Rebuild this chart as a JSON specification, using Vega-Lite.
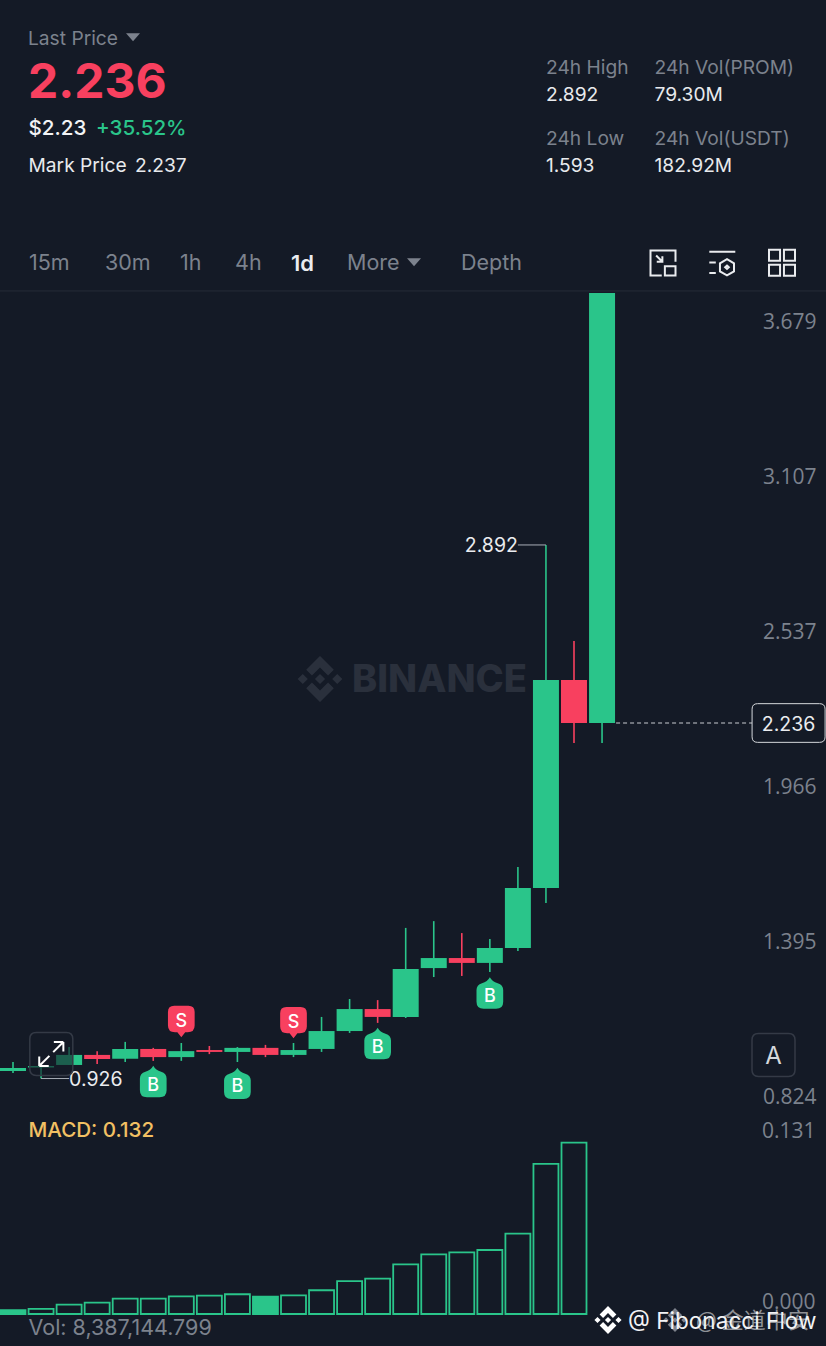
{
  "$schema": "https://vega.github.io/schema/vega-lite/v6.json",
  "width": 826,
  "height": 1346,
  "padding": 0,
  "autosize": {"type": "none"},
  "background": "#141a26",
  "config": {"view": {"stroke": null}, "font": "Inter"},
  "datasets": {
    "candles": [
      {"day": 0, "open": 0.954, "close": 0.965, "high": 0.987, "low": 0.946, "dir": "up"},
      {"day": 1, "open": 0.967, "close": 0.972, "high": 0.972, "low": 0.926, "dir": "up"},
      {"day": 2, "open": 0.976, "close": 1.013, "high": 1.042, "low": 0.976, "dir": "up"},
      {"day": 3, "open": 1.013, "close": 0.998, "high": 1.027, "low": 0.98, "dir": "down"},
      {"day": 4, "open": 0.999, "close": 1.035, "high": 1.061, "low": 0.987, "dir": "up"},
      {"day": 5, "open": 1.035, "close": 1.005, "high": 1.039, "low": 0.991, "dir": "down"},
      {"day": 6, "open": 1.005, "close": 1.027, "high": 1.057, "low": 0.991, "dir": "up"},
      {"day": 7, "open": 1.031, "close": 1.024, "high": 1.046, "low": 1.016, "dir": "down"},
      {"day": 8, "open": 1.024, "close": 1.039, "high": 1.042, "low": 0.987, "dir": "up"},
      {"day": 9, "open": 1.039, "close": 1.013, "high": 1.05, "low": 1.005, "dir": "down"},
      {"day": 10, "open": 1.013, "close": 1.031, "high": 1.057, "low": 1.005, "dir": "up"},
      {"day": 11, "open": 1.035, "close": 1.101, "high": 1.153, "low": 1.024, "dir": "up"},
      {"day": 12, "open": 1.101, "close": 1.182, "high": 1.219, "low": 1.094, "dir": "up"},
      {"day": 13, "open": 1.182, "close": 1.153, "high": 1.215, "low": 1.131, "dir": "down"},
      {"day": 14, "open": 1.153, "close": 1.33, "high": 1.481, "low": 1.149, "dir": "up"},
      {"day": 15, "open": 1.333, "close": 1.37, "high": 1.506, "low": 1.3, "dir": "up"},
      {"day": 16, "open": 1.37, "close": 1.352, "high": 1.462, "low": 1.304, "dir": "down"},
      {"day": 17, "open": 1.352, "close": 1.407, "high": 1.44, "low": 1.319, "dir": "up"},
      {"day": 18, "open": 1.407, "close": 1.628, "high": 1.705, "low": 1.396, "dir": "up"},
      {"day": 19, "open": 1.628, "close": 2.394, "high": 2.892, "low": 1.573, "dir": "up"},
      {"day": 20, "open": 2.394, "close": 2.236, "high": 2.538, "low": 2.162, "dir": "down"},
      {"day": 21, "open": 2.236, "close": 3.82, "high": 3.82, "low": 2.162, "dir": "up"}
    ],
    "macd": [
      {"day": 0, "macd": 0.003, "trend": "falling"},
      {"day": 1, "macd": 0.0039, "trend": "rising"},
      {"day": 2, "macd": 0.0072, "trend": "rising"},
      {"day": 3, "macd": 0.0087, "trend": "rising"},
      {"day": 4, "macd": 0.0118, "trend": "rising"},
      {"day": 5, "macd": 0.0118, "trend": "rising"},
      {"day": 6, "macd": 0.0136, "trend": "rising"},
      {"day": 7, "macd": 0.0141, "trend": "rising"},
      {"day": 8, "macd": 0.0152, "trend": "rising"},
      {"day": 9, "macd": 0.0133, "trend": "falling"},
      {"day": 10, "macd": 0.0144, "trend": "rising"},
      {"day": 11, "macd": 0.0183, "trend": "rising"},
      {"day": 12, "macd": 0.0254, "trend": "rising"},
      {"day": 13, "macd": 0.0272, "trend": "rising"},
      {"day": 14, "macd": 0.0383, "trend": "rising"},
      {"day": 15, "macd": 0.046, "trend": "rising"},
      {"day": 16, "macd": 0.0475, "trend": "rising"},
      {"day": 17, "macd": 0.0493, "trend": "rising"},
      {"day": 18, "macd": 0.0619, "trend": "rising"},
      {"day": 19, "macd": 0.1156, "trend": "rising"},
      {"day": 20, "macd": 0.132, "trend": "rising"}
    ],
    "signals": [
      {"day": 5, "side": "B", "price": 0.915},
      {"day": 6, "side": "S", "price": 1.136},
      {"day": 8, "side": "B", "price": 0.908},
      {"day": 10, "side": "S", "price": 1.132},
      {"day": 13, "side": "B", "price": 1.055},
      {"day": 17, "side": "B", "price": 1.241}
    ],
    "extremes": [
      {"label": "2.892", "price": 2.892, "day": 19, "labelDay": 18, "side": "left"},
      {"label": "0.926", "price": 0.926, "day": 1, "labelDay": 2, "side": "right"}
    ],
    "lastPrice": [
      {"label": "2.236", "price": 2.236, "from": 21.5, "to": 26.35, "tagDay": 27.65}
    ],
    "labels": [
      {"id": "lastTitle", "text": "Last Price", "group": "muted"},
      {"id": "last", "text": "2.236", "group": "headline"},
      {"id": "usd", "text": "$2.23", "group": "strong"},
      {"id": "change", "text": "+35.52%", "group": "gain"},
      {"id": "markTitle", "text": "Mark Price", "group": "value"},
      {"id": "mark", "text": "2.237", "group": "value"},
      {"id": "highTitle", "text": "24h High", "group": "muted"},
      {"id": "high", "text": "2.892", "group": "value"},
      {"id": "lowTitle", "text": "24h Low", "group": "muted"},
      {"id": "low", "text": "1.593", "group": "value"},
      {"id": "volPromTitle", "text": "24h Vol(PROM)", "group": "muted"},
      {"id": "volProm", "text": "79.30M", "group": "value"},
      {"id": "volUsdtTitle", "text": "24h Vol(USDT)", "group": "muted"},
      {"id": "volUsdt", "text": "182.92M", "group": "value"},
      {"id": "t15m", "text": "15m", "group": "tab"},
      {"id": "t30m", "text": "30m", "group": "tab"},
      {"id": "t1h", "text": "1h", "group": "tab"},
      {"id": "t4h", "text": "4h", "group": "tab"},
      {"id": "t1d", "text": "1d", "group": "active"},
      {"id": "tMore", "text": "More", "group": "tab"},
      {"id": "tDepth", "text": "Depth", "group": "tab"},
      {"id": "macdTitle", "text": "MACD: 0.132", "group": "macd"},
      {"id": "vol", "text": "Vol: 8,387,144.799", "group": "tab"},
      {"id": "brand", "text": "BINANCE", "group": "brand"},
      {"id": "autoBtn", "text": "A", "group": "button"},
      {"id": "credit", "text": "@ Fibonacci Flow", "group": "credit"},
      {"id": "ghost", "text": "@ 金道中安", "group": "ghost"}
    ],
    "widgets": [
      {"id": "caretLast"},
      {"id": "caretMore"},
      {"id": "fitIcon"},
      {"id": "indicatorIcon"},
      {"id": "gridIcon"},
      {"id": "brandLogo"},
      {"id": "expandBox"},
      {"id": "expandArrows"},
      {"id": "autoBox"},
      {"id": "creditLogo"},
      {"id": "ghostLogo"}
    ]
  },
  "resolve": {"scale": {"x": "independent", "y": "independent", "color": "independent", "fill": "independent", "shape": "independent"}},
  "layer": [
    {
      "data": {"values": [{"price": 3.828}]},
      "mark": {"type": "rule", "stroke": "#262c38", "strokeWidth": 1},
      "encoding": {
        "y": {
          "field": "price",
          "type": "quantitative",
          "scale": {"domain": [-0.0595, 4.9], "nice": false, "zero": false},
          "axis": {
            "orient": "right",
            "values": [0.824, 1.395, 1.966, 2.537, 3.107, 3.679],
            "format": ".3f",
            "title": null,
            "domain": false,
            "ticks": false,
            "grid": false,
            "labelColor": "#7c828d",
            "labelFontSize": 21,
            "labelFont": "Open Sans",
            "labelAlign": "right",
            "labelBaseline": "middle",
            "labelPadding": -10,
            "labelOffset": -9
          }
        }
      }
    },
    {
      "layer": [
        {
          "data": {"name": "candles"},
          "mark": {"type": "rule", "strokeWidth": 1.6},
          "encoding": {
            "x": {"field": "day", "type": "quantitative", "axis": null, "scale": {"domain": [-0.4635, 28.984], "nice": false, "zero": false, "padding": 0}},
            "y": {"field": "low", "type": "quantitative", "axis": null, "scale": {"domain": [-0.0595, 4.9], "nice": false, "zero": false}},
            "y2": {"field": "high"},
            "color": {"field": "dir", "type": "nominal", "legend": null, "scale": {"domain": ["up", "down"], "range": ["#2ac58a", "#f8405f"]}}
          }
        },
        {
          "data": {"name": "candles"},
          "mark": {"type": "bar", "size": 26},
          "encoding": {
            "x": {"field": "day", "type": "quantitative", "axis": null, "scale": {"domain": [-0.4635, 28.984], "nice": false, "zero": false, "padding": 0}},
            "y": {"field": "open", "type": "quantitative", "axis": null},
            "y2": {"field": "close"},
            "color": {"field": "dir", "type": "nominal", "legend": null}
          }
        },
        {
          "data": {"name": "extremes"},
          "mark": {"type": "rule", "stroke": "#a9afb7", "strokeWidth": 1},
          "encoding": {
            "x": {"field": "labelDay", "type": "quantitative", "axis": null},
            "x2": {"field": "day"},
            "y": {"field": "price", "type": "quantitative", "axis": null}
          }
        },
        {
          "data": {"name": "extremes"},
          "mark": {"type": "text", "fontSize": 19.5, "fill": "#eaecef", "baseline": "middle", "dy": 1.5, "align": {"expr": "datum.side === 'left' ? 'right' : 'left'"}},
          "encoding": {
            "x": {"field": "labelDay", "type": "quantitative", "axis": null},
            "y": {"field": "price", "type": "quantitative", "axis": null},
            "text": {"field": "label"}
          }
        },
        {
          "data": {"name": "lastPrice"},
          "mark": {"type": "rule", "stroke": "#c9ccd1", "strokeWidth": 1, "strokeDash": [4, 3]},
          "encoding": {
            "x": {"field": "from", "type": "quantitative", "axis": null},
            "x2": {"field": "to"},
            "y": {"field": "price", "type": "quantitative", "axis": null}
          }
        },
        {
          "data": {"name": "lastPrice"},
          "mark": {
            "type": "point",
            "shape": "M-0.85 -0.53H0.85Q1 -0.53 1 -0.38V0.38Q1 0.53 0.85 0.53H-0.85Q-1 0.53 -1 0.38V-0.38Q-1 -0.53 -0.85 -0.53Z",
            "size": 5329,
            "filled": true,
            "fill": "#141a26",
            "stroke": "#d5d8dc",
            "strokeWidth": 1,
            "opacity": 1
          },
          "encoding": {
            "x": {"field": "tagDay", "type": "quantitative", "axis": null},
            "y": {"field": "price", "type": "quantitative", "axis": null}
          }
        },
        {
          "data": {"name": "lastPrice"},
          "mark": {"type": "text", "fontSize": 19.5, "fill": "#eaecef", "align": "center", "baseline": "middle", "dy": 2},
          "encoding": {
            "x": {"field": "tagDay", "type": "quantitative", "axis": null},
            "y": {"field": "price", "type": "quantitative", "axis": null},
            "text": {"field": "label"}
          }
        },
        {
          "data": {"name": "signals"},
          "mark": {"type": "point", "filled": true, "size": 986, "opacity": 1},
          "encoding": {
            "x": {"field": "day", "type": "quantitative", "axis": null},
            "y": {"field": "price", "type": "quantitative", "axis": null},
            "shape": {
              "field": "side",
              "type": "nominal",
              "legend": null,
              "scale": {
                "domain": ["B", "S"],
                "range": [
                  "M0 -1Q0.15 -0.72 0.5 -0.62Q0.85 -0.5 0.85 -0.2V0.55Q0.85 1 0.4 1H-0.4Q-0.85 1 -0.85 0.55V-0.2Q-0.85 -0.5 -0.5 -0.62Q-0.15 -0.72 0 -1Z",
                  "M-0.45 -1H0.45Q0.85 -1 0.85 -0.6V0.25Q0.85 0.68 0.4 0.68H0.25L0 1L-0.25 0.68H-0.4Q-0.85 0.68 -0.85 0.25V-0.6Q-0.85 -1 -0.45 -1Z"
                ]
              }
            },
            "fill": {"field": "side", "type": "nominal", "legend": null, "scale": {"domain": ["B", "S"], "range": ["#2ac58a", "#f8405f"]}}
          }
        },
        {
          "data": {"name": "signals"},
          "mark": {"type": "text", "fontSize": 18, "fontWeight": 500, "fill": "#ffffff", "align": "center", "baseline": "middle", "dy": {"expr": "datum.side === 'B' ? 4 : 0"}},
          "encoding": {
            "x": {"field": "day", "type": "quantitative", "axis": null},
            "y": {"field": "price", "type": "quantitative", "axis": null},
            "text": {"field": "side"}
          }
        }
      ]
    },
    {
      "data": {"name": "macd"},
      "mark": {"type": "bar", "size": 25, "stroke": "#2ac58a", "strokeWidth": 1.8},
      "encoding": {
        "x": {"field": "day", "type": "quantitative", "axis": null, "scale": {"domain": [-0.4635, 28.984], "nice": false, "zero": false, "padding": 0}},
        "y": {
          "field": "macd",
          "type": "quantitative",
          "scale": {"domain": [-0.02465, 1.0123], "nice": false, "zero": false},
          "axis": {
            "orient": "right",
            "values": [0, 0.131],
            "format": ".3f",
            "title": null,
            "domain": false,
            "ticks": false,
            "grid": false,
            "labelColor": "#7c828d",
            "labelFontSize": 21,
            "labelFont": "Open Sans",
            "labelAlign": "right",
            "labelBaseline": "middle",
            "labelPadding": -11,
            "labelOffset": -12
          }
        },
        "fill": {"field": "trend", "type": "nominal", "legend": null, "scale": {"domain": ["rising", "falling"], "range": ["#141a26", "#2ac58a"]}}
      }
    },
    {
      "data": {"name": "widgets"},
      "transform": [
        {"calculate": "({caretLast:[133,37],caretMore:[414,262],fitIcon:[663,263],indicatorIcon:[722.3,263],gridIcon:[782,262.7],brandLogo:[320,679],expandBox:[51.3,1054],expandArrows:[51.3,1054],autoBox:[773.5,1055],creditLogo:[608,1320],ghostLogo:[675,1320]})[datum.id]", "as": "pos"},
        {"calculate": "datum.pos[0]", "as": "left"},
        {"calculate": "datum.pos[1]", "as": "top"}
      ],
      "encoding": {
        "x": {"field": "left", "type": "quantitative", "axis": null, "scale": {"domain": [0, 826], "nice": false, "zero": false}},
        "y": {"field": "top", "type": "quantitative", "axis": null, "scale": {"domain": [1346, 0], "nice": false, "zero": false}}
      },
      "layer": [
        {
          "transform": [{"filter": "datum.id === 'caretLast' || datum.id === 'caretMore'"}],
          "mark": {"type": "point", "shape": "M-1 -0.55L1 -0.55L0 0.6Z", "size": 196, "filled": true, "fill": "#7c828d", "opacity": 1}
        },
        {
          "transform": [{"filter": "datum.id === 'fitIcon'"}],
          "mark": {"type": "point", "shape": "M1 -0.1V-1H-1V1H-0.1M0.15 0.25H1V1H0.15ZM-0.55 -0.6L-0.05 -0.1M-0.05 -0.55V-0.1H-0.5", "size": 625, "filled": false, "stroke": "#eaecef", "strokeWidth": 2, "opacity": 1}
        },
        {
          "transform": [{"filter": "datum.id === 'indicatorIcon'"}],
          "mark": {"type": "point", "shape": "M-1 -0.87H1M-1 -0.03H-0.5M-1 0.76H-0.5M0.36 -0.29L0.9 0.02V0.64L0.36 0.95L-0.18 0.64V0.02ZM0.36 0.2L0.5 0.33L0.36 0.46L0.22 0.33Z", "size": 676, "filled": false, "stroke": "#eaecef", "strokeWidth": 2, "opacity": 1}
        },
        {
          "transform": [{"filter": "datum.id === 'gridIcon'"}],
          "mark": {"type": "point", "shape": "M-1 -1H-0.15V-0.15H-1ZM0.15 -1H1V-0.15H0.15ZM-1 0.15H-0.15V1H-1ZM0.15 0.15H1V1H0.15Z", "size": 676, "filled": false, "stroke": "#eaecef", "strokeWidth": 2, "opacity": 1}
        },
        {
          "transform": [{"filter": "datum.id === 'brandLogo'"}],
          "mark": {"type": "point", "shape": "M0 -1L0.6 -0.4L0.35 -0.15L0 -0.5L-0.35 -0.15L-0.6 -0.4ZM0 1L0.6 0.4L0.35 0.15L0 0.5L-0.35 0.15L-0.6 0.4ZM0 -0.22L0.22 0L0 0.22L-0.22 0ZM-0.75 -0.22L-0.53 0L-0.75 0.22L-0.97 0ZM0.75 -0.22L0.97 0L0.75 0.22L0.53 0Z", "size": 2116, "filled": true, "fill": "#2a303c", "opacity": 1}
        },
        {
          "transform": [{"filter": "datum.id === 'expandBox' || datum.id === 'autoBox'"}],
          "mark": {"type": "point", "shape": "M-0.7 -1H0.7Q1 -1 1 -0.7V0.7Q1 1 0.7 1H-0.7Q-1 1 -1 0.7V-0.7Q-1 -1 -0.7 -1Z", "size": 1849, "filled": true, "fill": "#141a26", "fillOpacity": 0.6, "stroke": "#343a46", "strokeWidth": 1.5, "opacity": 1}
        },
        {
          "transform": [{"filter": "datum.id === 'expandArrows'"}],
          "mark": {"type": "point", "shape": "M-0.95 0.95L-0.15 0.15M-0.95 0.95V0.2M-0.95 0.95H-0.2M0.95 -0.95L0.15 -0.15M0.95 -0.95V-0.2M0.95 -0.95H0.2", "size": 645, "filled": false, "stroke": "#ffffff", "strokeWidth": 2, "opacity": 1}
        },
        {
          "transform": [{"filter": "datum.id === 'ghostLogo'"}],
          "mark": {"type": "point", "shape": "M0 -1L0.6 -0.4L0.35 -0.15L0 -0.5L-0.35 -0.15L-0.6 -0.4ZM0 1L0.6 0.4L0.35 0.15L0 0.5L-0.35 0.15L-0.6 0.4ZM0 -0.22L0.22 0L0 0.22L-0.22 0ZM-0.75 -0.22L-0.53 0L-0.75 0.22L-0.97 0ZM0.75 -0.22L0.97 0L0.75 0.22L0.53 0Z", "size": 576, "filled": true, "fill": "#7d828c", "opacity": 1}
        },
        {
          "transform": [{"filter": "datum.id === 'creditLogo'"}],
          "mark": {"type": "point", "shape": "M0 -1L0.6 -0.4L0.35 -0.15L0 -0.5L-0.35 -0.15L-0.6 -0.4ZM0 1L0.6 0.4L0.35 0.15L0 0.5L-0.35 0.15L-0.6 0.4ZM0 -0.22L0.22 0L0 0.22L-0.22 0ZM-0.75 -0.22L-0.53 0L-0.75 0.22L-0.97 0ZM0.75 -0.22L0.97 0L0.75 0.22L0.53 0Z", "size": 784, "filled": true, "fill": "#ffffff", "opacity": 1}
        }
      ]
    },
    {
      "data": {"name": "labels"},
      "transform": [
        {"calculate": "({lastTitle:[28,38],last:[28,82],usd:[28.5,128],change:[96,128],markTitle:[28.5,165],mark:[135,165],highTitle:[546,67],high:[546,94],lowTitle:[546,137.5],low:[546,165],volPromTitle:[654.5,67],volProm:[654.5,94],volUsdtTitle:[654.5,137.5],volUsdt:[654.5,165],t15m:[29,263],t30m:[105,263],t1h:[180,263],t4h:[235,263],t1d:[291,263],tMore:[347,263],tDepth:[461,263],macdTitle:[28.5,1130],vol:[28.5,1328],brand:[352,679],autoBtn:[773.5,1056],credit:[628,1320],ghost:[696,1320]})[datum.id]", "as": "pos"},
        {"calculate": "datum.pos[0]", "as": "left"},
        {"calculate": "datum.pos[1]", "as": "top"}
      ],
      "encoding": {
        "x": {"field": "left", "type": "quantitative", "axis": null, "scale": {"domain": [0, 826], "nice": false, "zero": false}},
        "y": {"field": "top", "type": "quantitative", "axis": null, "scale": {"domain": [1346, 0], "nice": false, "zero": false}},
        "text": {"field": "text"}
      },
      "layer": [
        {
          "transform": [{"filter": "datum.group === 'muted' || datum.group === 'value'"}],
          "mark": {"type": "text", "fontSize": 19.2, "align": "left", "baseline": "middle", "dy": 1},
          "encoding": {
            "color": {"field": "group", "type": "nominal", "legend": null, "scale": {"domain": ["muted", "value", "strong", "gain", "macd"], "range": ["#7c828d", "#e8eaed", "#f2f3f5", "#2ac58a", "#f2c063"]}}
          }
        },
        {
          "transform": [{"filter": "datum.group === 'tab'"}],
          "mark": {"type": "text", "fontSize": 21.5, "fill": "#7c828d", "align": "left", "baseline": "middle", "dy": 1}
        },
        {
          "transform": [{"filter": "datum.group === 'strong' || datum.group === 'gain' || datum.group === 'macd'"}],
          "mark": {"type": "text", "fontSize": 20.6, "fontWeight": 500, "align": "left", "baseline": "middle", "dy": 1},
          "encoding": {
            "color": {"field": "group", "type": "nominal", "legend": null, "scale": {"domain": ["muted", "value", "strong", "gain", "macd"], "range": ["#7c828d", "#e8eaed", "#f2f3f5", "#2ac58a", "#f2c063"]}}
          }
        },
        {
          "transform": [{"filter": "datum.group === 'active'"}],
          "mark": {"type": "text", "fontSize": 22, "fontWeight": 600, "fill": "#eaecef", "align": "left", "baseline": "middle", "dy": 1}
        },
        {
          "transform": [{"filter": "datum.group === 'headline'"}],
          "mark": {"type": "text", "fontSize": 48, "fontWeight": 700, "fill": "#f8405f", "align": "left", "baseline": "middle", "dy": 2}
        },
        {
          "transform": [{"filter": "datum.group === 'brand'"}],
          "mark": {"type": "text", "fontSize": 38, "fontWeight": 800, "fill": "#2a303c", "align": "left", "baseline": "middle", "dy": 2}
        },
        {
          "transform": [{"filter": "datum.group === 'button'"}],
          "mark": {"type": "text", "fontSize": 24, "fill": "#d5d8dc", "align": "center", "baseline": "middle", "dy": 1}
        },
        {
          "transform": [{"filter": "datum.group === 'ghost'"}],
          "mark": {"type": "text", "font": "Noto Sans CJK SC", "fontSize": 22, "fill": "#8e9196", "align": "left", "baseline": "middle", "dy": 1}
        },
        {
          "transform": [{"filter": "datum.group === 'credit'"}],
          "mark": {"type": "text", "fontSize": 22.6, "fill": "#f2f3f5", "align": "left", "baseline": "middle", "dy": 1.5}
        }
      ]
    }
  ]
}
